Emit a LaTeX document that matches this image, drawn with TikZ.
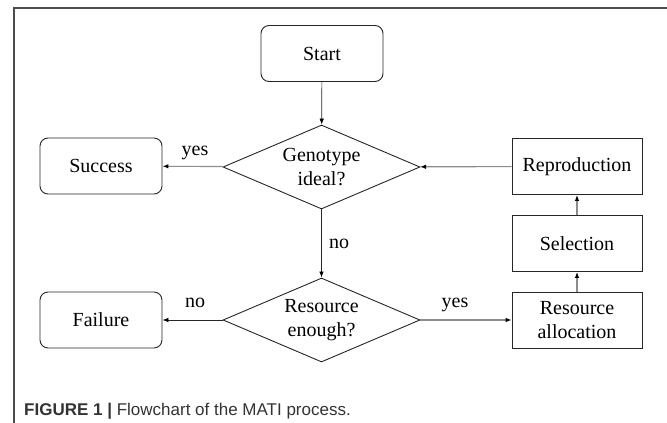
\documentclass[tikz,border=0pt]{standalone}
\usepackage{fontspec}
\setmainfont{Liberation Serif}
\newfontfamily\capfont{Liberation Sans}
\usepackage{tikz}
\usetikzlibrary{arrows.meta,shapes.geometric}

\definecolor{framegray}{gray}{0.3}
\definecolor{linegray}{gray}{0.55}
\definecolor{capgray}{gray}{0.2}
\definecolor{boxline}{gray}{0.15}

\begin{document}
\begin{tikzpicture}[>={Latex[length=6pt,width=4.5pt,black]},x=1pt,y=-1pt,
	every node/.style={font=\fontsize{20}{24}\selectfont},
	roundbox/.style={draw=boxline,line width=0.9pt,rounded corners=8pt,minimum width=122pt,minimum height=56pt,inner sep=0pt},
	squarebox/.style={draw=boxline,line width=0.9pt,minimum width=130pt,minimum height=56pt,inner sep=0pt,align=center},
	decision/.style={draw=boxline,line width=0.9pt,diamond,aspect=2.35,minimum width=197pt,minimum height=84pt,inner sep=0pt,align=center},
	flow/.style={->,line width=1.1pt,linegray},
	darkflow/.style={->,line width=0.7pt,boxline}]

	\useasboundingbox (0,0) rectangle (667,423);
	\draw[framegray,line width=1.5pt] (14,423) -- (14,8) -- (667,8);

	\node[roundbox] (start) at (322,53.5) {Start};
	\node[decision] (ideal) at (321.5,167) {Genotype\\ideal?};
	\node[roundbox] (success) at (101,166) {Success};
	\node[squarebox] (repro) at (577,166.5) {Reproduction};
	\node[squarebox] (select) at (577,243.5) {Selection};
	\node[squarebox] (alloc) at (577,320) {Resource\\allocation};
	\node[decision] (enough) at (321.5,320) {Resource\\enough?};
	\node[roundbox] (failure) at (101,320) {Failure};

	\draw[darkflow] (start) -- (ideal);
	\draw[flow] (ideal) -- (success);
	\draw[flow] (repro) -- (ideal);
	\draw[darkflow] (ideal) -- (enough);
	\draw[darkflow] (enough) -- (failure);
	\draw[flow] (enough) -- (alloc);
	\draw[flow] (alloc) -- (select);
	\draw[flow] (select) -- (repro);

	\node (yesideal) at (195,153) {yes};
	\node (noideal) at (339,244) {no};
	\node (noenough) at (195,303) {no};
	\node (yesenough) at (455,305) {yes};

	\node[anchor=base west,inner sep=0pt,capgray,font=\capfont\fontsize{17}{20}\selectfont] (caption) at (24,415)
	{\textbf{FIGURE 1 |} Flowchart of the MATI process.};

\end{tikzpicture}
\end{document}
